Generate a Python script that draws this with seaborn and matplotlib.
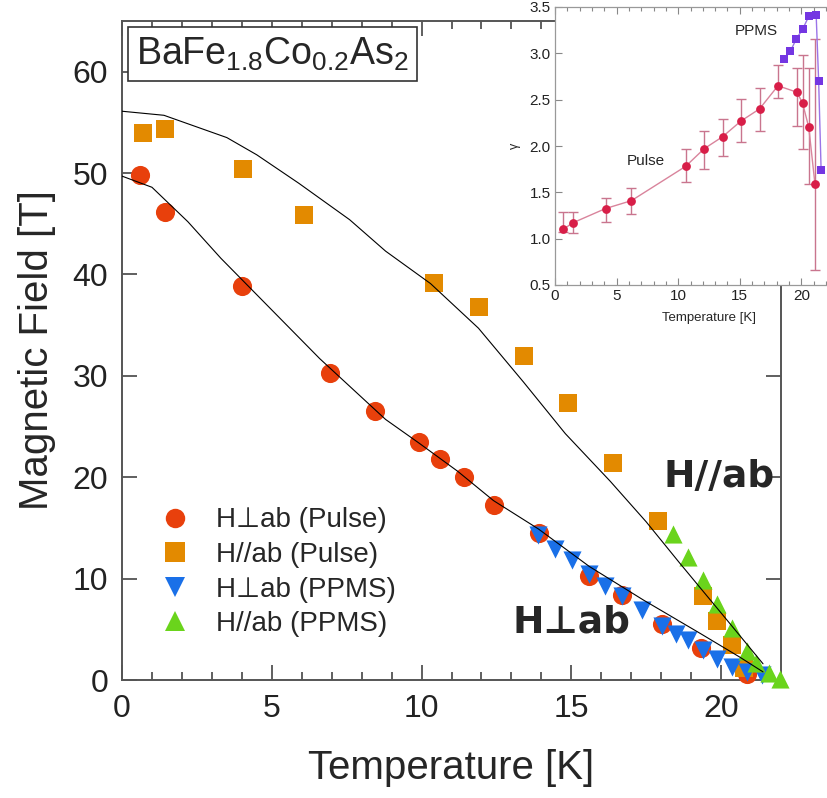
import pandas as pd
import matplotlib
matplotlib.use("Agg")
import matplotlib.pyplot as plt
import seaborn as sns
from matplotlib.ticker import MultipleLocator
from matplotlib.lines import Line2D

# ---- main panel: Hc2(T) ----
perp_pulse_T = [0.6, 1.43, 4.0, 6.96, 8.44, 9.93, 10.62, 11.41, 12.41, 13.91, 15.6, 16.68, 18.04, 19.34, 20.86]
perp_pulse_H = [49.8, 46.2, 38.9, 30.3, 26.5, 23.5, 21.8, 20.0, 17.3, 14.5, 10.3, 8.4, 5.5, 3.2, 0.6]

par_pulse_T = [0.69, 1.43, 4.04, 6.09, 10.41, 11.91, 13.41, 14.9, 16.38, 17.91, 19.4, 19.86, 20.38, 20.77]
par_pulse_H = [54.0, 54.3, 50.4, 45.9, 39.2, 36.8, 32.0, 27.3, 21.4, 15.7, 8.3, 5.8, 3.5, 1.2]

perp_ppms_T = [13.88, 14.47, 15.02, 15.6, 16.12, 16.68, 17.36, 18.04, 18.49, 18.91, 19.38, 19.86, 20.38, 20.86, 21.36]
perp_ppms_H = [14.3, 12.9, 11.8, 10.5, 9.3, 8.25, 6.9, 5.3, 4.55, 3.9, 3.0, 2.1, 1.3, 0.8, 0.5]

par_ppms_T = [18.4, 18.88, 19.4, 19.88, 20.38, 20.86, 21.16, 21.6, 21.97]
par_ppms_H = [14.4, 12.1, 9.9, 7.5, 5.1, 2.9, 1.65, 0.66, 0.1]

# fit curves
fit_par_T = [0, 1.4, 3.5, 4.5, 5.9, 7.6, 8.8, 10.3, 11.9, 13.4, 14.8, 16.3, 17.5, 18.6, 20.2, 21.4]
fit_par_H = [56.1, 55.7, 53.5, 51.8, 49.0, 45.4, 42.3, 39.1, 34.7, 29.4, 24.3, 19.6, 15.6, 11.6, 5.9, 1.6]
fit_perp_T = [0, 1.0, 2.2, 3.3, 4.4, 5.5, 6.6, 7.7, 8.8, 9.9, 11.2, 12.4, 13.9, 15.6, 17.4, 19.3, 20.6, 21.4]
fit_perp_H = [49.7, 48.6, 45.2, 41.6, 38.3, 35.0, 31.7, 28.7, 25.7, 23.4, 20.6, 17.7, 14.9, 11.2, 7.9, 4.6, 2.3, 0.8]

# ---- inset: anisotropy gamma ----
g_pulse_T = [0.66, 1.43, 4.1, 6.2, 10.6, 12.1, 13.6, 15.1, 16.6, 18.1, 19.65, 20.1, 20.6, 21.1]
g_pulse = [1.10, 1.17, 1.325, 1.41, 1.78, 1.97, 2.10, 2.27, 2.40, 2.65, 2.58, 2.46, 2.20, 1.59]
g_pulse_hi = [1.29, 1.29, 1.44, 1.55, 1.97, 2.16, 2.29, 2.51, 2.63, 2.87, 2.84, 2.98, 2.84, 3.16]
g_pulse_lo = [1.07, 1.06, 1.18, 1.27, 1.61, 1.75, 1.89, 2.04, 2.16, 2.52, 2.22, 1.97, 1.59, 0.66]
g_ppms_T = [18.6, 19.1, 19.6, 20.1, 20.6, 21.2, 21.4, 21.6]
g_ppms = [2.94, 3.02, 3.16, 3.26, 3.40, 3.41, 2.70, 1.74]
inset_xticks = [0, 5, 10, 15, 20]

labels = ["H\u22a5ab (Pulse)", "H//ab (Pulse)", "H\u22a5ab (PPMS)", "H//ab (PPMS)"]
colors = ["#e8400c", "#e38a00", "#1a70e8", "#6ad41c"]
markers = ["o", "s", "v", "^"]
sizes = [190, 160, 170, 170]

sns.set_style("ticks")
plt.rcParams['font.family'] = ['Liberation Sans', 'DejaVu Sans']
plt.rcParams['mathtext.fontset'] = 'custom'
plt.rcParams['mathtext.rm'] = 'Liberation Sans'
plt.rcParams['mathtext.it'] = 'Liberation Sans:italic'

fig = plt.figure(figsize=(8.27, 7.98), dpi=100)
ax = fig.add_axes([122/827, 118/798, 659/827, 659/798])

series = [(perp_pulse_T, perp_pulse_H), (par_pulse_T, par_pulse_H),
          (perp_ppms_T, perp_ppms_H), (par_ppms_T, par_ppms_H)]
for (t, h), c, m, s in zip(series, colors, markers, sizes):
    sns.scatterplot(x=t, y=h, ax=ax, color=c, marker=m, s=s, linewidth=0,
                    legend=False, clip_on=False, zorder=3)

for t, h in [(fit_par_T, fit_par_H), (fit_perp_T, fit_perp_H)]:
    sns.lineplot(x=t, y=h, ax=ax, sort=False, estimator=None, color="black",
                 lw=0.8, zorder=5)

ax.set_xlim(0, 22)
ax.set_ylim(0, 65)
ax.xaxis.set_major_locator(MultipleLocator(5))
ax.xaxis.set_minor_locator(MultipleLocator(1))
ax.yaxis.set_major_locator(MultipleLocator(10))
ax.tick_params(which="both", direction="in", top=True, right=True, color="#444",
               width=1.2, labelsize=23, labelcolor="#222", pad=10)
ax.tick_params(which="major", length=11)
ax.tick_params(which="minor", length=6)
for sp in ax.spines.values():
    sp.set_color("#555")
    sp.set_linewidth(1.4)

ax.set_xlabel("Temperature [K]", fontsize=29, labelpad=18)
ax.set_ylabel("Magnetic Field [T]", fontsize=29, labelpad=12)

ax.text(0.021, 0.978, r"BaFe$_{1.8}$Co$_{0.2}$As$_2$", transform=ax.transAxes,
        ha="left", va="top", fontsize=27,
        bbox=dict(boxstyle="square,pad=0.22", fc="white", ec="#333", lw=1.2))

ax.text(19.93, 20.0, "H//ab", fontsize=27, fontweight="bold", ha="center", va="center",
        family="DejaVu Sans")
ax.text(15.0, 5.7, "H\u22a5ab", fontsize=27, fontweight="bold", ha="center", va="center",
        family="DejaVu Sans")

handles = [Line2D([], [], ls="none", marker=m, color=c, markersize=14, markeredgewidth=0)
           for m, c in zip(markers, colors)]
ax.legend(handles, labels, loc="upper left", bbox_to_anchor=(0.059, 0.262),
          frameon=False, fontsize=20, handlelength=1.0, handletextpad=1.0,
          labelspacing=0.31, borderpad=0, borderaxespad=0)

# ---- inset ----
ax_in = fig.add_axes([555/827, (798-285)/798, 308/827, 278/798])
ax_in.set_facecolor("white")
ax_in.errorbar(g_pulse_T, g_pulse,
               yerr=[[g - l for g, l in zip(g_pulse, g_pulse_lo)],
                     [h - g for g, h in zip(g_pulse, g_pulse_hi)]],
               fmt="none", ecolor="#c9758e", elinewidth=1.0, capsize=3.5, capthick=1.0)
sns.lineplot(x=g_pulse_T, y=g_pulse, ax=ax_in, sort=False, estimator=None,
             color="#d9849c", lw=1.0)
sns.scatterplot(x=g_pulse_T, y=g_pulse, ax=ax_in, color="#d81e48", s=40,
                linewidth=0, zorder=4, legend=False)
sns.lineplot(x=g_ppms_T, y=g_ppms, ax=ax_in, sort=False, estimator=None,
             color="#9b74e8", lw=1.0)
sns.scatterplot(x=g_ppms_T, y=g_ppms, ax=ax_in, color="#7436e2", marker="s", s=30,
                linewidth=0, zorder=4, legend=False)

ax_in.text(16.3, 3.24, "PPMS", fontsize=11, ha="center", va="center")
ax_in.text(7.35, 1.84, "Pulse", fontsize=11, ha="center", va="center")

ax_in.set_xlim(0, 25)
ax_in.set_ylim(0.5, 3.5)
ax_in.set_xticks(inset_xticks)
ax_in.xaxis.set_minor_locator(MultipleLocator(1))
ax_in.yaxis.set_major_locator(MultipleLocator(0.5))
ax_in.tick_params(which="both", direction="in", top=True, right=True, color="#888",
                  width=0.8, labelsize=11, labelcolor="#222", pad=3)
ax_in.tick_params(which="major", length=5)
ax_in.tick_params(which="minor", length=3)
for sp in ax_in.spines.values():
    sp.set_color("#999")
    sp.set_linewidth(0.9)
ax_in.set_xlabel("Temperature [K]", fontsize=9.5, labelpad=6)
ax_in.set_ylabel("\u03b3", fontsize=9, labelpad=6)

fig.savefig("out.png", dpi=100)
